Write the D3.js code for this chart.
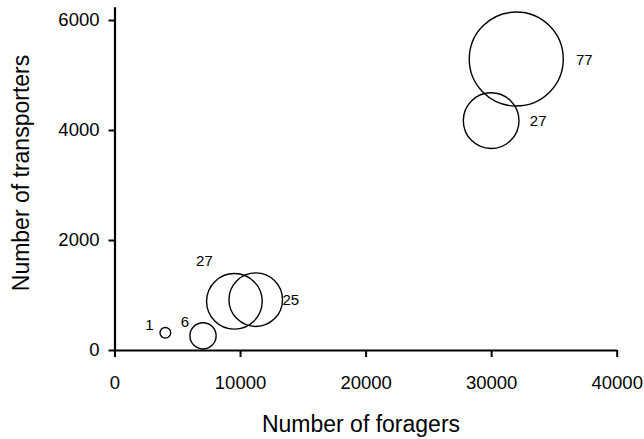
<!DOCTYPE html>
<html>
<head>
<meta charset="utf-8">
<script src="https://cdn.jsdelivr.net/npm/d3@7"></script>
<style>
  body { margin: 0; background: #fff; }
  svg { display: block; font-family: "Liberation Sans", Arial, sans-serif; }
</style>
</head>
<body>
<div id="chart"></div>
<script>
// colony data
const foragers = [4050, 7050, 9550, 11250, 30000, 32000];
const transporters = [313, 258, 885, 915, 4170, 5290];
const counts = [1, 6, 27, 25, 27, 77];
const xTicks = [0, 10000, 20000, 30000, 40000];
const yTicks = [0, 2000, 4000, 6000];

// label offsets (px) from each circle centre
const labelOffsets = [[-16, -8], [-18, -14], [-30, -41], [35, 0], [47, 0], [68, 1]];

const width = 644;
const height = 439;

const svg = d3
  .select("#chart")
  .append("svg")
  .attr("width", width)
  .attr("height", height);

const xScale = d3.scaleLinear().domain([0, 40000]).range([114.5, 616.7]);
const yScale = d3.scaleLinear().domain([0, 6240]).range([350, 6.8]);
const rScale = d3.scaleSqrt().domain([0, 77]).range([0, 47]);

// x axis
const xAxis = svg
  .append("g")
  .attr("transform", `translate(0, ${yScale(0)})`)
  .call(
    d3.axisBottom(xScale)
      .tickValues(xTicks)
      .tickFormat(d3.format("d"))
      .tickSize(7)
      .tickPadding(19)
      .tickSizeOuter(0)
  );
xAxis.attr("font-family", null).attr("font-size", null);
xAxis.select(".domain").attr("stroke-width", 2.2);
xAxis.selectAll(".tick line").attr("stroke-width", 2);
xAxis.selectAll("text").attr("font-size", "18.5px").attr("fill", "#000");

// y axis
const yAxis = svg
  .append("g")
  .attr("transform", `translate(${xScale(0)}, 0)`)
  .call(
    d3.axisLeft(yScale)
      .tickValues(yTicks)
      .tickFormat(d3.format("d"))
      .tickSize(6)
      .tickPadding(9)
      .tickSizeOuter(0)
  );
yAxis.attr("font-family", null).attr("font-size", null);
yAxis.select(".domain").attr("stroke-width", 2.2);
yAxis.selectAll(".tick line").attr("stroke-width", 2);
yAxis.selectAll("text").attr("font-size", "18.5px").attr("fill", "#000");

// bubbles
const points = foragers.map((f, i) => ({
  x: f,
  y: transporters[i],
  n: counts[i],
  off: labelOffsets[i],
}));

svg
  .selectAll("circle.bubble")
  .data(points)
  .enter()
  .append("circle")
  .attr("class", "bubble")
  .attr("cx", (d) => xScale(d.x))
  .attr("cy", (d) => yScale(d.y))
  .attr("r", (d) => rScale(d.n))
  .attr("fill", "none")
  .attr("stroke", "#000")
  .attr("stroke-width", 1.4);

svg
  .selectAll("text.count")
  .data(points)
  .enter()
  .append("text")
  .attr("class", "count")
  .attr("x", (d) => xScale(d.x) + d.off[0])
  .attr("y", (d) => yScale(d.y) + d.off[1])
  .attr("dy", "0.36em")
  .attr("text-anchor", "middle")
  .attr("font-size", "15px")
  .text((d) => d.n);

// axis titles
svg
  .append("text")
  .attr("x", 361)
  .attr("y", 432)
  .attr("text-anchor", "middle")
  .attr("font-size", "23px")
  .text("Number of foragers");

svg
  .append("text")
  .attr("transform", "translate(29, 173) rotate(-90)")
  .attr("text-anchor", "middle")
  .attr("font-size", "23px")
  .text("Number of transporters");
</script>
</body>
</html>
